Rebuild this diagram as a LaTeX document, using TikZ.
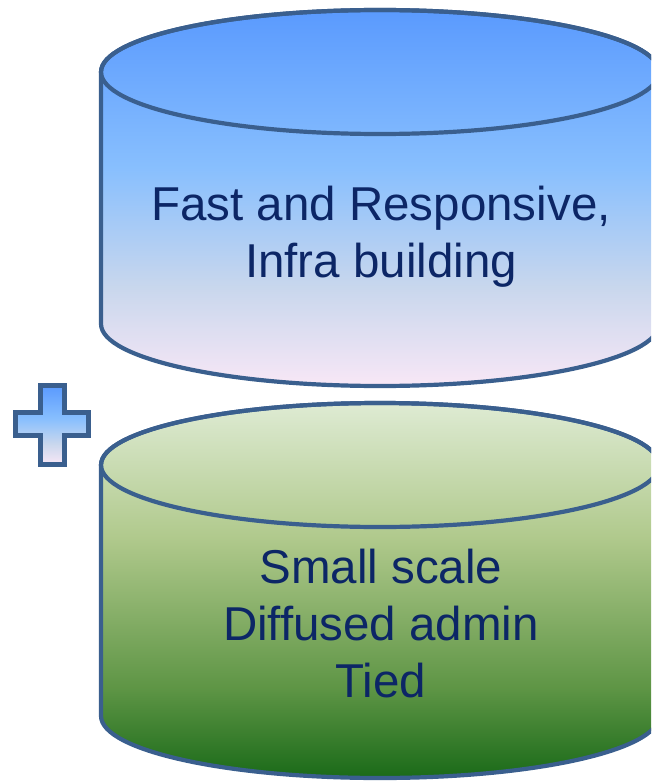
\documentclass[tikz,border=0pt]{standalone}
\usepackage{fontspec}
\setmainfont{Liberation Sans}
\definecolor{edgeblue}{RGB}{58,95,142}
\definecolor{txtnavy}{RGB}{12,38,102}
\definecolor{bTop}{RGB}{90,154,254}
\definecolor{bMid}{RGB}{136,191,254}
\definecolor{bLow}{RGB}{201,215,237}
\definecolor{bBot}{RGB}{248,231,246}
\definecolor{gTop}{RGB}{222,235,211}
\definecolor{gMid}{RGB}{176,201,140}
\definecolor{gLow}{RGB}{94,149,69}
\definecolor{gBot}{RGB}{26,106,24}
\pgfdeclareverticalshading{blueshade}{100bp}{color(0bp)=(bBot); color(25bp)=(bBot); color(38bp)=(bLow); color(54bp)=(bMid); color(75bp)=(bTop); color(100bp)=(bTop)}
\pgfdeclareverticalshading{greenshade}{100bp}{color(0bp)=(gBot); color(25bp)=(gBot); color(37bp)=(gLow); color(57bp)=(gMid); color(75bp)=(gTop); color(100bp)=(gTop)}
\tikzset{
  cylline/.style={draw=edgeblue, line width=4.2pt, line join=round},
  cyltext/.style={text=txtnavy, font=\fontsize{47.5}{57}\selectfont, align=center, anchor=base, inner sep=0pt}
}
\begin{document}
\begin{tikzpicture}[x=1pt, y=-1pt]
\clip (0,0) rectangle (651,781);
% top cylinder
\path[cylline, shading=blueshade]
  (101,72) -- (101,324) arc[start angle=180, end angle=360, x radius=279pt, y radius=62pt]
  -- (659,72) arc[start angle=0, end angle=180, x radius=279pt, y radius=62pt] -- cycle;
\draw[cylline] (380,72) ellipse [x radius=279pt, y radius=62pt];
% bottom cylinder
\path[cylline, shading=greenshade]
  (101,465) -- (101,716) arc[start angle=180, end angle=360, x radius=279pt, y radius=62pt]
  -- (659,465) arc[start angle=0, end angle=180, x radius=279pt, y radius=62pt] -- cycle;
\draw[cylline] (380,465) ellipse [x radius=279pt, y radius=62pt];
% plus sign
\path[draw=edgeblue, line width=5pt, shading=blueshade, line join=miter]
  (40.8,385.8) -- (64.2,385.8) -- (64.2,412.5) -- (88.5,412.5) -- (88.5,435.8)
  -- (64.2,435.8) -- (64.2,464.2) -- (40.8,464.2) -- (40.8,435.8) -- (15.8,435.8)
  -- (15.8,412.5) -- (40.8,412.5) -- cycle;
% texts
\node[cyltext] (t1) at (381,220) {Fast and Responsive,};
\node[cyltext] (t2) at (381,277) {Infra building};
\node[cyltext] (b1) at (381,583) {Small scale};
\node[cyltext] (b2) at (381,640) {Diffused admin};
\node[cyltext] (b3) at (381,697) {Tied};
\end{tikzpicture}
\end{document}
